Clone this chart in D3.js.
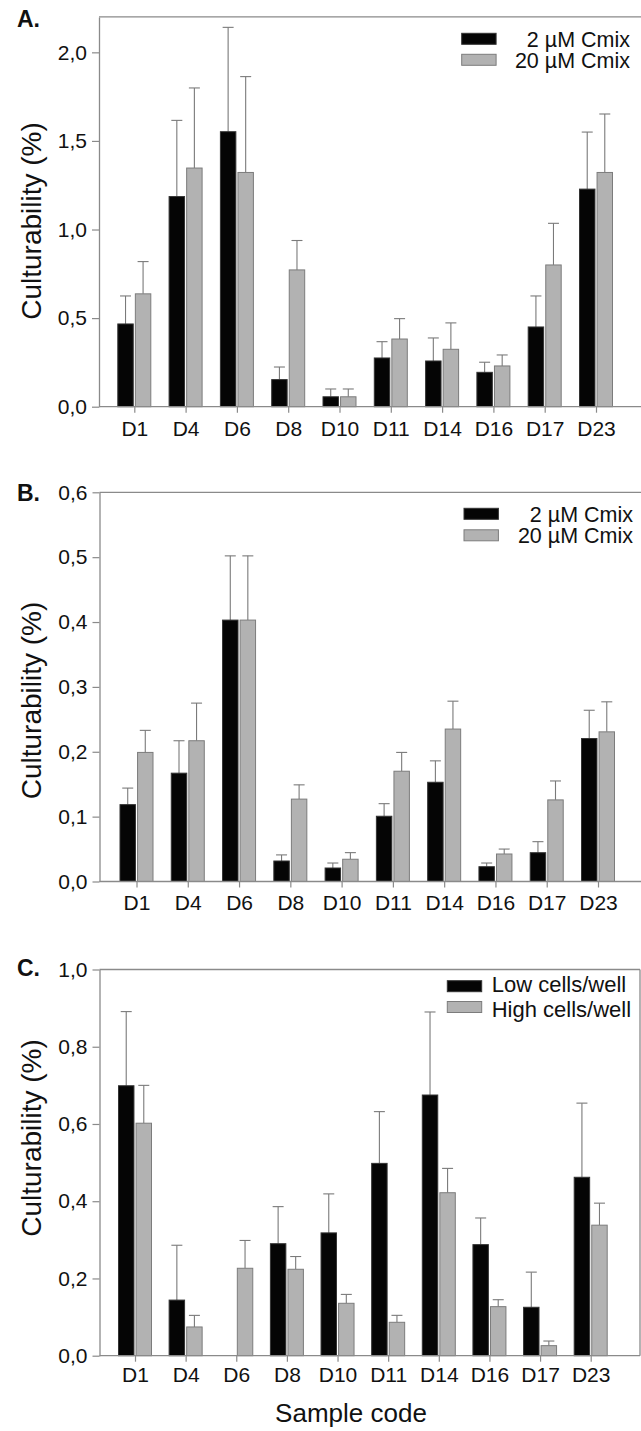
<!DOCTYPE html>
<html><head><meta charset="utf-8">
<script src="https://cdn.jsdelivr.net/npm/d3@7"></script>
<style>html,body{margin:0;padding:0;background:#fff} svg{display:block} text{font-family:"Liberation Sans",Arial,Helvetica,sans-serif}</style>
</head><body><svg id="c" width="641" height="1431"></svg>
<script>
// ---------- DATA ----------
const categories = ["D1","D4","D6","D8","D10","D11","D14","D16","D17","D23"];

// Panel A
const aLow     = [0.467,1.186,1.552,0.153,0.056,0.275,0.258,0.194,0.450,1.228];
const aLowErr  = [0.158,0.430,0.589,0.071,0.044,0.092,0.130,0.057,0.175,0.322];
const aHigh    = [0.637,1.347,1.322,0.772,0.056,0.382,0.324,0.230,0.800,1.322];
const aHighErr = [0.182,0.452,0.541,0.166,0.044,0.115,0.149,0.062,0.235,0.330];
const aTicks   = [0,0.5,1.0,1.5,2.0];
const aTickLabels = ["0,0","0,5","1,0","1,5","2,0"];
const aLegend  = ["2 µM Cmix","20 µM Cmix"];

// Panel B
const bLow     = [0.1185,0.167,0.403,0.0316,0.0208,0.1006,0.153,0.0228,0.0444,0.2204];
const bLowErr  = [0.0255,0.050,0.099,0.0094,0.0077,0.0194,0.033,0.0057,0.017,0.0436];
const bHigh    = [0.199,0.217,0.403,0.127,0.0343,0.170,0.235,0.0424,0.1258,0.2307];
const bHighErr = [0.034,0.058,0.099,0.022,0.0102,0.029,0.043,0.0076,0.0292,0.0463];
const bTicks   = [0,0.1,0.2,0.3,0.4,0.5,0.6];
const bTickLabels = ["0,0","0,1","0,2","0,3","0,4","0,5","0,6"];
const bLegend  = ["2 µM Cmix","20 µM Cmix"];

// Panel C
const cLow     = [0.699,0.144,null,0.290,0.318,0.498,0.675,0.2876,0.1254,0.462];
const cLowErr  = [0.192,0.142,null,0.096,0.101,0.134,0.215,0.069,0.091,0.192];
const cHigh    = [0.602,0.0744,0.2264,0.2238,0.1357,0.0865,0.422,0.127,0.026,0.338];
const cHighErr = [0.098,0.030,0.072,0.033,0.023,0.018,0.063,0.018,0.012,0.057];
const cTicks   = [0,0.2,0.4,0.6,0.8,1.0];
const cTickLabels = ["0,0","0,2","0,4","0,6","0,8","1,0"];
const cLegend  = ["Low cells/well","High cells/well"];

const yTitle = "Culturability (%)";
const xTitle = "Sample code";

// ---------- STYLE ----------
const AXIS = "#8a8a8a", TXT = "#111";
const FILL = ["#050505","#b2b2b2"], STROKE = ["#333","#7c7c7c"];
const svg = d3.select("#c");
svg.append("rect").attr("width",641).attr("height",1431).attr("fill","#fff");

function panel(o){
  const g = svg.append("g");
  const y = d3.scaleLinear().domain([0,o.ymax]).range([o.y0,o.y1]);
  const x = d3.scalePoint().domain(categories).range(o.xr);
  const sub = d3.scaleBand().domain([0,1]).range([-16.5,16.5]).paddingInner(0.12);

  g.append("line").attr("x1",o.left).attr("x2",o.right).attr("y1",y(o.ymax)).attr("y2",y(o.ymax))
    .attr("stroke",AXIS).attr("stroke-width",1.3);
  g.append("line").attr("x1",o.right).attr("x2",o.right).attr("y1",y(o.ymax)).attr("y2",y(0))
    .attr("stroke",AXIS).attr("stroke-width",1.3);

  const series = [[o.low,o.lowErr],[o.high,o.highErr]];
  series.forEach((s,si)=>{
    const rows = categories.map((c,i)=>({c,v:s[0][i],e:s[1][i]})).filter(d=>d.v!=null);
    const eg = g.append("g");
    rows.forEach(d=>{
      const cx = x(d.c)+sub(si)+sub.bandwidth()/2;
      eg.append("line").attr("x1",cx).attr("x2",cx).attr("y1",y(d.v)).attr("y2",y(d.v+d.e))
        .attr("stroke","#7a7a7a").attr("stroke-width",1.1);
      eg.append("line").attr("x1",cx-5.5).attr("x2",cx+5.5).attr("y1",y(d.v+d.e)).attr("y2",y(d.v+d.e))
        .attr("stroke","#7a7a7a").attr("stroke-width",1.1);
    });
    g.append("g").selectAll("rect").data(rows).join("rect")
      .attr("x",d=>x(d.c)+sub(si)).attr("width",sub.bandwidth())
      .attr("y",d=>y(d.v)).attr("height",d=>y(0)-y(d.v))
      .attr("fill",FILL[si]).attr("stroke",STROKE[si]).attr("stroke-width",1);
  });

  const ya = g.append("g").attr("transform",`translate(${o.left},0)`)
    .call(d3.axisLeft(y).tickValues(o.ticks).tickFormat((d,i)=>o.tickLabels[i]).tickSize(7).tickPadding(5).tickSizeOuter(0));
  ya.select(".domain").attr("stroke",AXIS).attr("stroke-width",1.3);
  ya.selectAll(".tick line").attr("stroke",AXIS).attr("stroke-width",1.2);
  ya.selectAll("text").attr("fill",TXT).style("font-size","21px");

  g.append("line").attr("x1",o.left).attr("x2",o.right).attr("y1",y(0)).attr("y2",y(0))
    .attr("stroke",AXIS).attr("stroke-width",1.3);
  const xa = g.append("g").attr("transform",`translate(0,${y(0)})`)
    .call(d3.axisBottom(x).tickSize(6).tickPadding(o.xpad).tickSizeOuter(0));
  xa.select(".domain").remove();
  xa.selectAll(".tick line").attr("stroke",AXIS).attr("stroke-width",1.2);
  xa.selectAll("text").attr("fill",TXT).style("font-size","21px");

  g.append("text").attr("transform",`translate(41,${o.ytc}) rotate(-90)`).attr("text-anchor","middle")
    .attr("fill",TXT).style("font-size","28px").text(yTitle);

  g.append("text").attr("x",17).attr("y",o.letterY).attr("fill",TXT)
    .style("font-size","23px").style("font-weight","bold").text(o.letter);

  o.legend.forEach((t,i)=>{
    g.append("rect").attr("x",o.lg.rx).attr("y",o.lg.ry[i]).attr("width",34.4).attr("height",11)
      .attr("fill",FILL[i]).attr("stroke",STROKE[i]).attr("stroke-width",1);
    g.append("text").attr("x",o.lg.tx).attr("y",o.lg.ty[i]).attr("text-anchor",o.lg.anchor)
      .attr("fill",TXT).style("font-size",o.lg.fs+"px").text(t);
  });
}

panel({letter:"A.",letterY:27,ymax:2.2,y0:406.7,y1:16.9,left:99,right:642,xr:[134.3,596],xpad:8,
  low:aLow,lowErr:aLowErr,high:aHigh,highErr:aHighErr,ticks:aTicks,tickLabels:aTickLabels,ytc:221,
  legend:aLegend,lg:{rx:461.7,ry:[33.3,54.3],tx:630,ty:[46.5,68],anchor:"end",fs:21.5}});
panel({letter:"B.",letterY:500.7,ymax:0.6,y0:881.5,y1:492.3,left:99.5,right:642,xr:[136.5,598],xpad:8,
  low:bLow,lowErr:bLowErr,high:bHigh,highErr:bHighErr,ticks:bTicks,tickLabels:bTickLabels,ytc:700.5,
  legend:bLegend,lg:{rx:464,ry:[508.3,529.8],tx:633,ty:[521.5,543],anchor:"end",fs:21.5}});
panel({letter:"C.",letterY:976,ymax:1.0,y0:1355.7,y1:969.5,left:99.5,right:640,xr:[135,590.7],xpad:5,
  low:cLow,lowErr:cLowErr,high:cHigh,highErr:cHighErr,ticks:cTicks,tickLabels:cTickLabels,ytc:1138,
  legend:cLegend,lg:{rx:447.3,ry:[980.7,1001.5],tx:491.7,ty:[991.7,1016.7],anchor:"start",fs:22}});

svg.append("text").attr("x",351).attr("y",1422).attr("text-anchor","middle").attr("fill",TXT)
  .style("font-size","26px").text(xTitle);
</script></body></html>
